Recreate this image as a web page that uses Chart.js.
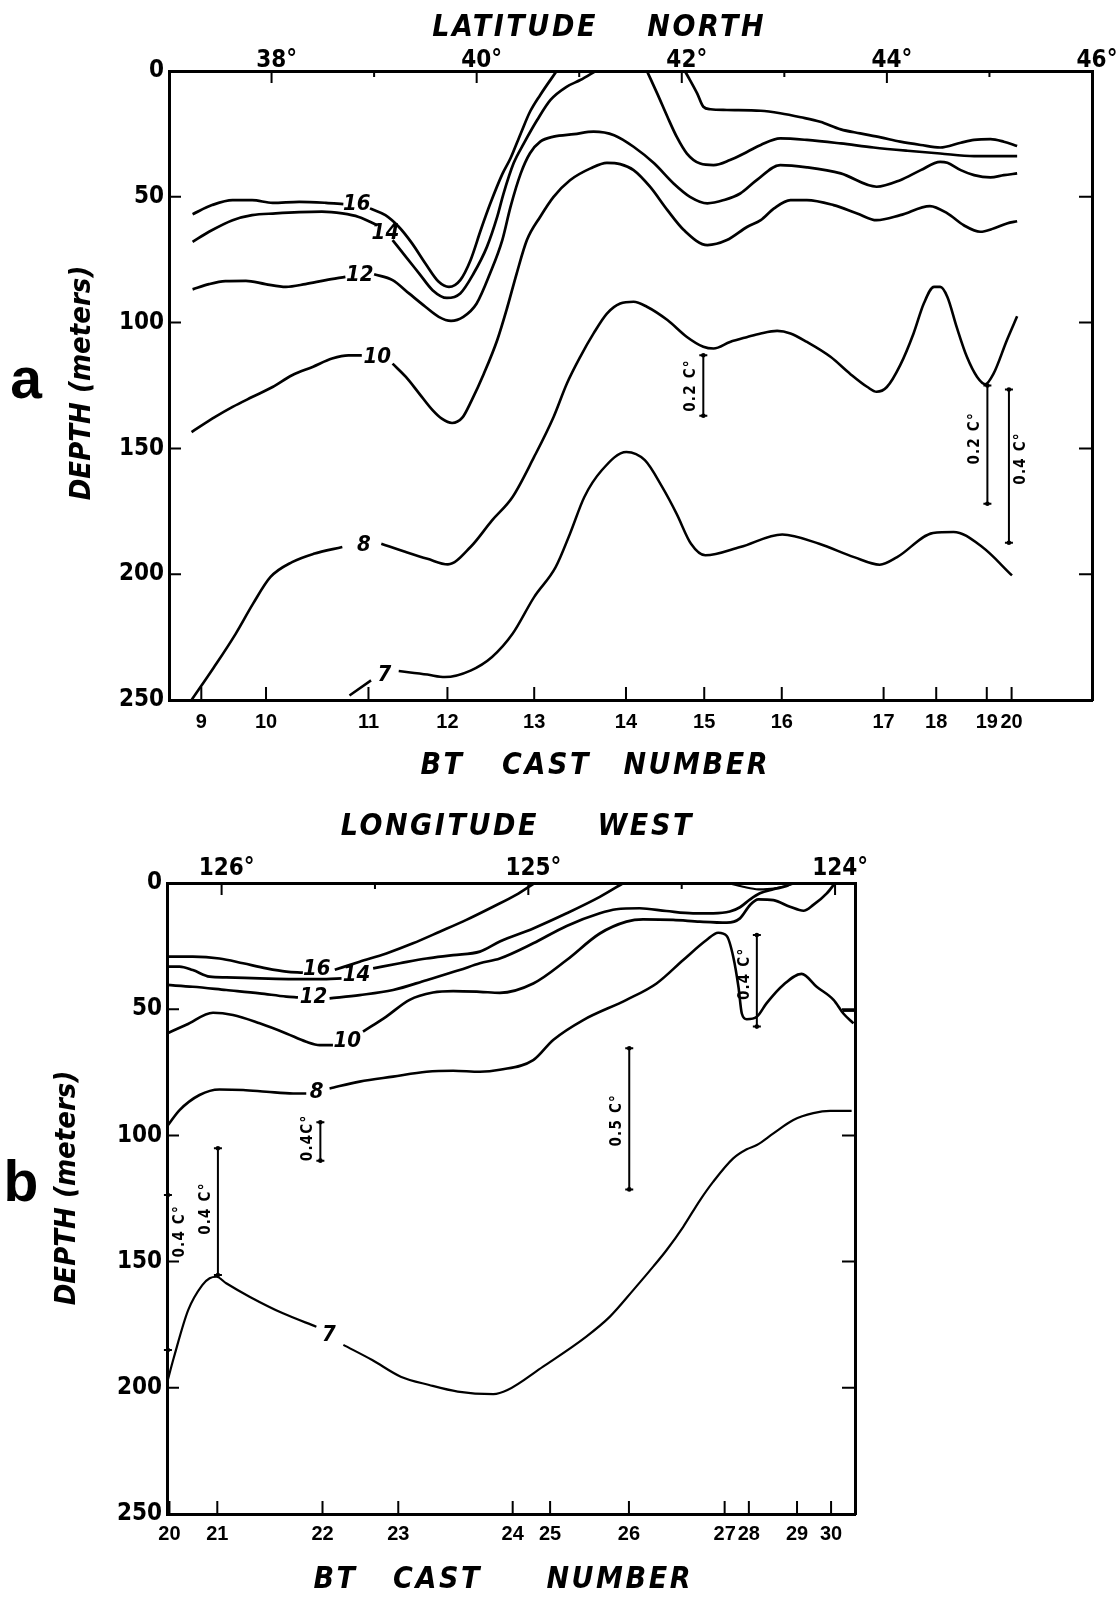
<!DOCTYPE html>
<html>
<head>
<meta charset="utf-8">
<script src="https://cdn.jsdelivr.net/npm/chart.js@4.4.0/dist/chart.umd.min.js"></script>
<style>
  html, body { margin: 0; padding: 0; background: #fff; }
  body { width: 1116px; height: 1598px; position: relative; overflow: hidden; }
  canvas { position: absolute; left: 0; }
  #cA { top: 0; }
  #cB { top: 790px; }
</style>
</head>
<body>
<canvas id="cA" width="1116" height="800"></canvas>
<canvas id="cB" width="1116" height="808"></canvas>
<script>
// ---------- Section a: latitude (deg N) vs depth (m) ----------
const castNumA = [9, 10, 11, 12, 13, 14, 15, 16, 17, 18, 19, 20];
const castLatA = [37.315, 37.946, 38.945, 39.715, 40.561, 41.456, 42.219, 42.975, 43.968, 44.481, 44.974, 45.216];
const latMajor = [38, 40, 42, 44, 46];
const latMinor = [39, 41, 43, 45];
const depthTicks = [0, 50, 100, 150, 200, 250];
const depthInner = [50, 100, 150, 200];

// isotherms, [latitude, depth]; a null depth leaves room for the contour label
const isoA16 = [[37.23,56.9],[37.42,53.3],[37.62,51.3],[37.81,51.3],[38.01,52.4],[38.27,52.0],[38.53,52.4],[38.70,52.9],[38.83,null],[38.96,54.6],[39.11,57.3],[39.24,61.9],[39.37,68.5],[39.50,76.5],[39.63,83.8],[39.73,85.8],[39.84,83.1],[39.94,75.2],[40.04,63.2],[40.13,53.0],[40.25,41.0],[40.33,34.7],[40.43,24.8],[40.52,16.2],[40.62,9.5],[40.78,0]];
const isoA14 = [[37.23,67.9],[37.39,63.9],[37.62,59.3],[37.81,57.3],[38.04,56.6],[38.27,56.1],[38.49,55.9],[38.69,56.6],[38.85,58.0],[39.03,61.3],[39.11,null],[39.18,67.2],[39.31,73.9],[39.44,80.5],[39.57,87.1],[39.71,90.2],[39.84,88.4],[39.97,80.5],[40.10,69.9],[40.20,58.0],[40.26,49.0],[40.36,36.7],[40.46,28.8],[40.59,19.5],[40.72,11.5],[40.88,6.2],[41.01,3.6],[41.16,0]];
const isoA12 = [[37.23,86.8],[37.39,84.7],[37.55,83.5],[37.75,83.4],[37.94,84.7],[38.14,85.8],[38.33,84.7],[38.53,83.1],[38.72,81.8],[38.86,null],[39.00,80.8],[39.18,83.1],[39.34,88.4],[39.50,93.7],[39.63,97.7],[39.75,99.3],[39.87,97.7],[40.00,92.4],[40.13,80.5],[40.25,67.2],[40.33,54.0],[40.43,40.7],[40.52,32.7],[40.62,28.1],[40.75,26.1],[40.95,25.1],[41.14,24.1],[41.34,25.5],[41.53,30.1],[41.73,36.7],[41.92,44.7],[42.08,50.0],[42.25,52.6],[42.41,51.3],[42.57,48.7],[42.73,43.4],[42.96,37.4],[43.22,38.3],[43.55,40.7],[43.90,46.0],[44.13,43.4],[44.33,39.4],[44.52,36.1],[44.59,36.5],[44.72,39.4],[44.85,41.4],[45.01,42.3],[45.14,41.4],[45.27,40.7]];
const isoA10 = [[37.22,143.5],[37.45,137.5],[37.62,133.5],[37.81,129.6],[38.01,125.6],[38.20,120.9],[38.40,117.6],[38.59,114.3],[38.75,113.0],[38.88,113.0],[39.03,null],[39.18,116.3],[39.31,121.6],[39.44,128.2],[39.57,134.8],[39.66,138.2],[39.76,139.9],[39.86,137.8],[39.95,131.0],[40.07,120.3],[40.20,107.0],[40.30,93.7],[40.39,80.5],[40.49,67.2],[40.62,57.9],[40.75,50.0],[40.91,43.4],[41.11,38.7],[41.27,36.5],[41.40,37.0],[41.53,39.4],[41.69,46.0],[41.86,55.3],[42.02,63.2],[42.25,69.2],[42.44,67.2],[42.64,61.9],[42.77,59.3],[42.90,54.6],[43.06,51.3],[43.22,51.3],[43.48,53.3],[43.71,56.6],[43.90,59.3],[44.13,57.3],[44.42,53.7],[44.59,56.6],[44.75,61.3],[44.91,63.9],[45.04,62.6],[45.17,60.6],[45.27,59.7]];
const isoA8 = [[37.22,250],[37.44,236.9],[37.65,223.7],[37.82,211.7],[37.99,201.1],[38.20,195.2],[38.41,191.9],[38.69,189.2],[38.90,null],[39.07,187.9],[39.31,191.2],[39.52,193.9],[39.72,196.1],[39.94,189.2],[40.15,178.6],[40.35,169.3],[40.56,153.4],[40.75,137.5],[40.88,124.2],[41.01,113.6],[41.14,104.3],[41.27,96.4],[41.40,92.4],[41.53,91.7],[41.66,93.7],[41.86,99.0],[42.05,105.7],[42.21,109.6],[42.31,110.3],[42.47,107.7],[42.64,105.7],[42.77,104.3],[42.93,103.3],[43.06,104.3],[43.22,107.7],[43.45,113.6],[43.64,120.3],[43.81,125.6],[43.90,127.5],[44.00,125.6],[44.13,116.9],[44.26,104.3],[44.36,92.4],[44.46,85.8],[44.52,85.8],[44.59,89.8],[44.68,101.7],[44.78,113.6],[44.88,121.6],[44.96,124.5],[45.04,120.3],[45.17,107.0],[45.27,97.5]];
const isoA7 = [[38.76,248.2],[38.97,242.2],[39.10,null],[39.24,238.5],[39.52,239.9],[39.69,240.9],[39.94,238.3],[40.15,232.9],[40.35,223.7],[40.56,209.1],[40.77,197.2],[40.91,183.9],[41.05,169.3],[41.22,158.7],[41.46,151.4],[41.64,154.7],[41.81,165.4],[41.95,176.0],[42.09,187.9],[42.23,192.5],[42.57,189.2],[42.98,184.2],[43.34,187.9],[43.68,193.2],[43.93,196.2],[44.10,193.2],[44.45,183.6],[44.65,183.2],[44.93,189.2],[45.22,200.5]];
const isoAupper1 = [[42.03,0],[42.08,3.6],[42.15,8.9],[42.21,14.2],[42.28,15.2],[42.44,15.5],[42.77,15.8],[42.96,16.8],[43.16,18.4],[43.35,20.2],[43.55,23.2],[43.74,24.8],[43.94,26.4],[44.13,28.1],[44.33,29.4],[44.52,30.4],[44.72,28.5],[44.85,27.4],[45.01,27.1],[45.14,28.1],[45.27,29.8]];
const isoAupper2 = [[41.66,0],[41.76,8.9],[41.86,18.2],[41.95,26.1],[42.05,32.8],[42.18,36.8],[42.31,37.4],[42.47,35.4],[42.64,32.1],[42.77,29.4],[42.96,26.8],[43.22,27.4],[43.55,28.8],[43.87,30.4],[44.20,31.7],[44.52,32.8],[44.85,33.8],[45.27,33.8]];

// contour labels [text, latitude, depth]
const labelsA = [['16',38.83,52.8],['14',39.11,64.5],['12',38.86,81.3],['10',39.03,113.8],['8',38.90,188.5],['7',39.10,240]];
// temperature-difference bars (depth range in m, label depth in m)
const barsA = [
  {x: 42.21, from: 113, to: 137, at: 125, text: '0.2 C°', side: -1},
  {x: 44.98, from: 125, to: 172, at: 146, text: '0.2 C°', side: -1},
  {x: 45.19, from: 126.6, to: 187.5, at: 154, text: '0.4 C°', side: 1}
];

// ---------- Section b: longitude (deg W) vs depth (m) ----------
const castNumB = [20, 21, 22, 23, 24, 25, 26, 27, 28, 29, 30];
const castLonB = [126.17, 126.014, 125.671, 125.424, 125.051, 124.929, 124.672, 124.360, 124.281, 124.124, 124.013];
const lonMajor = [126, 125, 124];
const lonMinor = [125.5, 124.5];

const isoB16 = [[126.178,29.2],[126.094,29.2],[126.007,29.9],[125.930,31.8],[125.854,33.8],[125.789,35.1],[125.735,35.5],[125.69,null],[125.631,34.4],[125.550,31.2],[125.463,27.9],[125.376,23.9],[125.289,19.3],[125.202,14.6],[125.115,9.4],[125.04,4.7],[124.98,0]];
const isoB14 = [[126.178,33.1],[126.137,33.1],[126.094,34.5],[126.039,37.1],[125.985,37.4],[125.876,37.8],[125.767,38.1],[125.658,38.1],[125.609,37.8],[125.56,null],[125.506,33.8],[125.419,31.8],[125.332,29.9],[125.245,28.6],[125.158,27.2],[125.093,23.2],[124.984,18.0],[124.875,12.0],[124.767,5.5],[124.69,0]];
const isoB12 = [[126.178,40.4],[126.094,41.1],[125.985,42.4],[125.876,43.7],[125.789,45.0],[125.751,45.3],[125.70,null],[125.648,45.7],[125.550,44.4],[125.441,42.4],[125.332,38.5],[125.224,34.5],[125.158,31.8],[125.093,29.9],[124.984,23.9],[124.875,17.0],[124.767,12.0],[124.713,10.4],[124.637,10.0],[124.550,11.1],[124.463,12.0],[124.397,12.0],[124.343,11.3],[124.310,9.6],[124.277,6.5],[124.245,4.1],[124.201,2.5],[124.158,1.2],[124.14,0]];
const isoB10 = [[126.178,59.6],[126.115,56.2],[126.028,51.4],[125.963,52.3],[125.876,55.6],[125.789,59.6],[125.724,62.9],[125.680,64.2],[125.637,64.2],[125.59,null],[125.539,58.9],[125.463,52.9],[125.387,46.3],[125.311,43.4],[125.245,42.8],[125.158,43.1],[125.093,43.5],[124.984,39.8],[124.875,30.5],[124.767,20.0],[124.680,15.3],[124.626,14.4],[124.528,14.6],[124.441,15.3],[124.353,15.7],[124.310,14.0],[124.277,8.7],[124.250,6.5],[124.201,6.8],[124.147,9.4],[124.103,11.0],[124.071,8.7],[124.027,4.1],[124.0,0]];
const isoB8 = [[126.178,96.5],[126.137,90.0],[126.072,84.0],[126.007,81.8],[125.930,82.0],[125.854,82.7],[125.767,83.4],[125.724,83.4],[125.69,null],[125.648,81.4],[125.550,78.7],[125.441,76.7],[125.332,74.8],[125.245,74.4],[125.158,74.8],[125.093,74.0],[124.984,70.2],[124.919,62.2],[124.821,54.3],[124.680,46.3],[124.582,39.8],[124.495,30.5],[124.419,22.6],[124.381,19.7],[124.353,21.0],[124.332,29.2],[124.315,41.1],[124.304,51.7],[124.288,54.0],[124.255,53.0],[124.223,47.6],[124.169,40.4],[124.109,36.0],[124.060,41.1],[124.005,46.3],[123.973,51.7],[123.940,55.6]];
const isoB8edge = [[123.975,50.6],[123.937,50.6]];
const isoBsurface = [[124.35,0],[124.30,1.5],[124.25,2.5],[124.20,2.2],[124.15,0.8],[124.13,0]];
const isoB7 = [[126.18,199],[126.155,187.7],[126.109,169.2],[126.063,159.3],[126.039,156.6],[126.017,156.0],[125.985,158.6],[125.909,163.9],[125.800,170.5],[125.691,175.8],[125.65,null],[125.603,183.0],[125.509,189.0],[125.416,195.6],[125.323,198.9],[125.230,201.5],[125.114,202.5],[125.068,200.9],[124.952,191.6],[124.812,179.8],[124.734,171.8],[124.658,161.3],[124.593,152.0],[124.549,145.4],[124.495,136.2],[124.440,125.6],[124.397,118.3],[124.332,109.1],[124.288,105.5],[124.255,103.8],[124.201,99.2],[124.136,93.9],[124.071,91.2],[124.016,90.3],[123.946,90.3]];

const labelsB = [['16',125.69,34],['14',125.56,36.5],['12',125.70,45.2],['10',125.59,62.7],['8',125.69,83],['7',125.65,179]];
const barsB = [
  {x: 126.175, from: 123.6, to: 185, at: 138, text: '0.4 C°', side: 1},
  {x: 126.012, from: 105.1, to: 155.3, at: 129, text: '0.4 C°', side: -1},
  {x: 125.678, from: 94.8, to: 110, at: 101, text: '0.4C°', side: -1},
  {x: 124.671, from: 65.5, to: 121.4, at: 94, text: '0.5 C°', side: -1},
  {x: 124.255, from: 20.6, to: 56.9, at: 36, text: '0.4 C°', side: -1}
];

// ---------- drawing helpers ----------
const FAM = "'DejaVu Sans Condensed', 'DejaVu Sans', sans-serif";
const CAST_FAM = "'Liberation Sans', Arial, sans-serif";
Chart.defaults.color = '#000';
Chart.defaults.font.family = FAM;

const toPts = arr => arr.map(p => ({x: p[0], y: p[1]}));
function iso(arr, width) {
  return {
    data: toPts(arr), borderColor: '#000', borderWidth: width,
    pointRadius: 0, pointHoverRadius: 0, fill: false, spanGaps: false,
    cubicInterpolationMode: 'monotone', xAxisID: 'x', yAxisID: 'y'
  };
}

function drawWords(ctx, t) {
  ctx.save();
  ctx.font = `italic bold 30px ${FAM}`;
  ctx.letterSpacing = '2.6px';
  ctx.textAlign = 'left';
  ctx.textBaseline = 'middle';
  const widths = t.words.map(w => ctx.measureText(w).width - 2.6);
  const total = widths.reduce((a, b) => a + b, 0) + t.gaps.reduce((a, b) => a + b, 0);
  let x = t.cx - total / 2;
  t.words.forEach((w, i) => { ctx.fillText(w, x, t.cy); x += widths[i] + (t.gaps[i] || 0); });
  ctx.restore();
}

const decor = {
  id: 'decor',
  afterDraw(chart, args, o) {
    const ctx = chart.ctx, ca = chart.chartArea;
    const X = v => chart.scales.x.getPixelForValue(v);
    const Y = v => chart.scales.y.getPixelForValue(v);
    ctx.save();
    ctx.strokeStyle = '#000';
    ctx.fillStyle = '#000';

    // tick marks pointing into the plot
    ctx.lineWidth = 2;
    ctx.beginPath();
    o.bottomTicks.forEach(v => { const p = X(v); ctx.moveTo(p, ca.bottom); ctx.lineTo(p, ca.bottom - 13); });
    o.topMajor.forEach(v => { const p = X(v); ctx.moveTo(p, ca.top); ctx.lineTo(p, ca.top + 12); });
    o.topMinor.forEach(v => { const p = X(v); ctx.moveTo(p, ca.top); ctx.lineTo(p, ca.top + 6); });
    o.sideTicks.forEach(v => {
      const p = Y(v);
      ctx.moveTo(ca.left, p); ctx.lineTo(ca.left + 12, p);
      ctx.moveTo(ca.right, p); ctx.lineTo(ca.right - 13, p);
    });
    ctx.stroke();

    // isotherm labels
    ctx.font = `italic bold 22px ${FAM}`;
    ctx.textAlign = 'center';
    ctx.textBaseline = 'middle';
    o.labels.forEach(([t, x, y]) => ctx.fillText(t, X(x), Y(y)));

    // temperature-difference bars
    o.bars.forEach(b => {
      const px = X(b.x), y1 = Y(b.from), y2 = Y(b.to);
      ctx.lineWidth = 2;
      ctx.beginPath();
      ctx.moveTo(px, y1); ctx.lineTo(px, y2);
      ctx.moveTo(px - 4, y1); ctx.lineTo(px + 4, y1);
      ctx.moveTo(px - 4, y2); ctx.lineTo(px + 4, y2);
      ctx.stroke();
      [y1, y2].forEach(yy => { ctx.beginPath(); ctx.arc(px, yy, 2.3, 0, Math.PI * 2); ctx.fill(); });
      ctx.save();
      ctx.translate(px + b.side * 12, Y(b.at));
      ctx.rotate(-Math.PI / 2);
      ctx.font = `bold 15px ${FAM}`;
      ctx.letterSpacing = '1.2px';
      ctx.textAlign = 'center';
      ctx.textBaseline = 'middle';
      ctx.fillText(b.text, 0, 0);
      ctx.restore();
    });

    // axis titles
    o.titles.forEach(t => drawWords(ctx, t));
    ctx.save();
    ctx.translate(o.yTitle.x, o.yTitle.cy);
    ctx.rotate(-Math.PI / 2);
    ctx.font = `italic bold 29px ${FAM}`;
    ctx.textAlign = 'center';
    ctx.textBaseline = 'alphabetic';
    ctx.fillText(o.yTitle.text, 0, 0);
    ctx.restore();

    // panel letter
    ctx.font = "bold 57px 'Liberation Sans', Arial, sans-serif";
    ctx.textAlign = 'center';
    ctx.textBaseline = 'alphabetic';
    ctx.fillText(o.letter.text, o.letter.x, o.letter.y);
    ctx.restore();
  }
};

const numFont = (size, fam) => ({family: fam || FAM, size: size, weight: 'bold'});
const axisBorder = {display: true, color: '#000', width: 3};

function buildScales(cfg) {
  return {
    x: {
      type: 'linear', position: 'bottom', min: cfg.min, max: cfg.max, reverse: cfg.reverse,
      grid: {display: false, drawTicks: false}, border: axisBorder,
      afterFit: s => { s.height = cfg.bottomBox; },
      afterBuildTicks: s => { s.ticks = cfg.castPos.map(v => ({value: v})); },
      ticks: {autoSkip: false, maxRotation: 0, minRotation: 0, padding: cfg.bottomPad,
              font: numFont(cfg.castSize, CAST_FAM),
              callback: (v, i) => String(cfg.castNum[i])}
    },
    xTop: {
      type: 'linear', position: 'top', min: cfg.min, max: cfg.max, reverse: cfg.reverse,
      grid: {display: false, drawTicks: false}, border: axisBorder,
      afterFit: s => { s.height = cfg.topBox; },
      afterBuildTicks: s => { s.ticks = cfg.topTicks.map(v => ({value: v})); },
      ticks: {autoSkip: false, maxRotation: 0, minRotation: 0, padding: cfg.topPad, labelOffset: 5,
              font: numFont(24), callback: v => v + '°'}
    },
    y: {
      type: 'linear', position: 'left', min: 0, max: 250, reverse: true,
      grid: {display: false, drawTicks: false}, border: axisBorder,
      afterFit: s => { s.width = cfg.leftBox; },
      afterBuildTicks: s => { s.ticks = depthTicks.map(v => ({value: v})); },
      ticks: {padding: 5, font: numFont(24)}
    },
    yRight: {
      type: 'linear', position: 'right', min: 0, max: 250, reverse: true,
      grid: {display: false, drawTicks: false}, border: axisBorder,
      afterFit: s => { s.width = cfg.rightBox; },
      ticks: {display: false}
    }
  };
}

function baseOptions(scales, decorOpts) {
  return {
    responsive: false, animation: false, devicePixelRatio: 1,
    layout: {padding: 0},
    events: [],
    plugins: {legend: {display: false}, tooltip: {enabled: false}, decor: decorOpts},
    scales: scales
  };
}

// Section a
new Chart(document.getElementById('cA'), {
  type: 'line',
  data: {datasets: [
    iso(isoA16, 2.7), iso(isoA14, 2.7), iso(isoA12, 2.7), iso(isoA10, 2.7),
    iso(isoA8, 2.6), iso(isoA7, 2.5), iso(isoAupper1, 2.7), iso(isoAupper2, 2.7)
  ]},
  options: baseOptions(
    buildScales({min: 37, max: 46, reverse: false, castPos: castLatA, castNum: castNumA, castSize: 20,
                 topTicks: latMajor, topBox: 71, bottomBox: 100, leftBox: 169, rightBox: 24,
                 bottomPad: 10, topPad: -4}),
    {
      bottomTicks: castLatA, topMajor: latMajor, topMinor: latMinor, sideTicks: depthInner,
      labels: labelsA, bars: barsA,
      titles: [
        {words: ['LATITUDE', 'NORTH'], gaps: [52], cx: 598, cy: 28},
        {words: ['BT', 'CAST', 'NUMBER'], gaps: [40, 35], cx: 594, cy: 766}
      ],
      yTitle: {text: 'DEPTH (meters)', x: 90, cy: 383},
      letter: {text: 'a', x: 26, y: 398}
    }
  ),
  plugins: [decor]
});

// Section b
new Chart(document.getElementById('cB'), {
  type: 'line',
  data: {datasets: [
    iso(isoB16, 2.7), iso(isoB14, 2.7), iso(isoB12, 2.7), iso(isoB10, 2.7),
    iso(isoB8, 2.6), iso(isoB8edge, 2.4), iso(isoBsurface, 2.2), iso(isoB7, 2.2)
  ]},
  options: baseOptions(
    buildScales({min: 123.935, max: 126.178, reverse: true, castPos: castLonB, castNum: castNumB, castSize: 20,
                 topTicks: lonMajor, topBox: 93, bottomBox: 84, leftBox: 167, rightBox: 261,
                 bottomPad: 8, topPad: 0}),
    {
      bottomTicks: castLonB, topMajor: lonMajor, topMinor: lonMinor, sideTicks: depthInner,
      labels: labelsB, bars: barsB,
      titles: [
        {words: ['LONGITUDE', 'WEST'], gaps: [61], cx: 516, cy: 37.5},
        {words: ['BT', 'CAST', 'NUMBER'], gaps: [38, 67], cx: 502, cy: 790}
      ],
      yTitle: {text: 'DEPTH (meters)', x: 75, cy: 398},
      letter: {text: 'b', x: 21, y: 411}
    }
  ),
  plugins: [decor]
});
</script>
</body>
</html>
